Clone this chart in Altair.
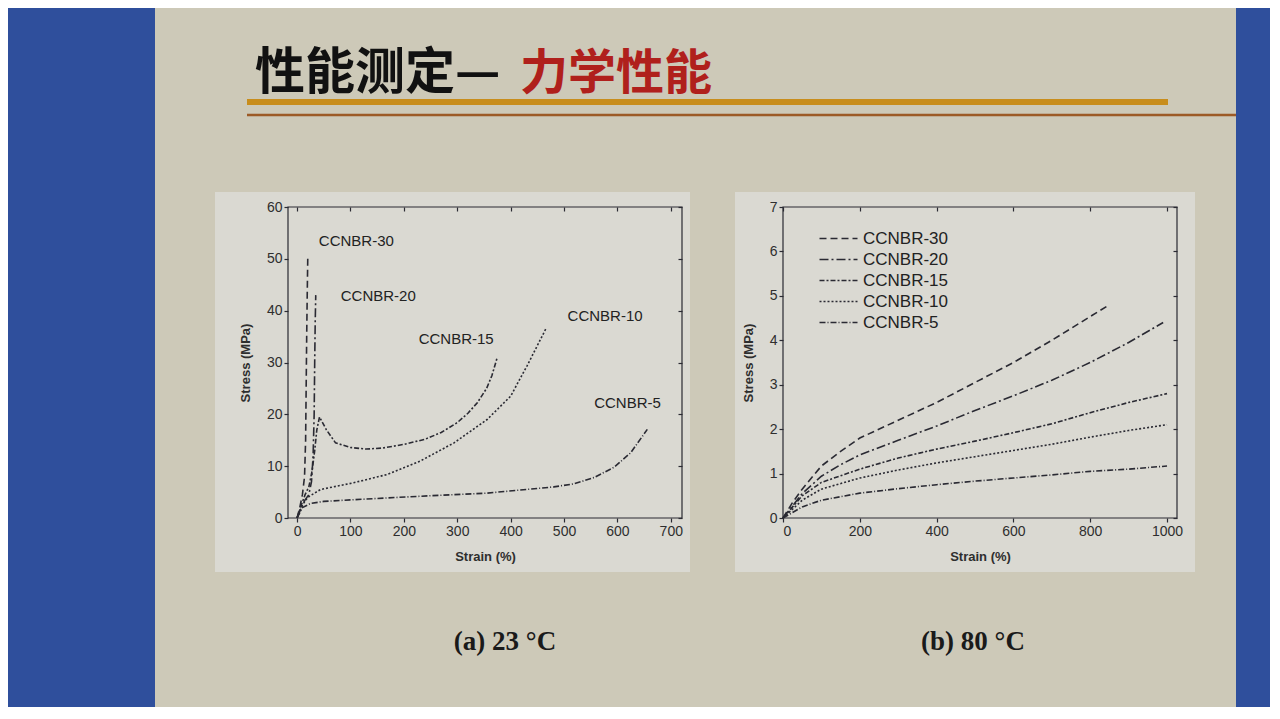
import altair as alt
import pandas as pd

# ---------------- data ----------------
series = ["CCNBR-30", "CCNBR-20", "CCNBR-15", "CCNBR-10", "CCNBR-5"]

# (a) 23 C
a30_strain = [0, 5, 10, 14, 16, 17, 18, 19, 20]
a30_stress = [0, 2, 4.5, 8, 15, 25, 35, 43, 50]
a20_strain = [0, 8, 15, 22, 27, 30, 32, 33, 34, 35]
a20_stress = [0, 2, 3.5, 4.5, 7, 12, 20, 30, 38, 43]
a15_strain = [0, 8, 15, 22, 28, 33, 37, 42, 55, 72, 100, 130, 160, 200, 240, 270, 300, 320, 338, 355, 365, 375]
a15_stress = [0, 2.5, 4.5, 6, 9, 13, 17, 19.5, 17, 14.5, 13.6, 13.3, 13.5, 14.2, 15.2, 16.5, 18.4, 20.2, 22.3, 25, 27.5, 31]
a10_strain = [0, 10, 20, 44, 106, 169, 231, 294, 356, 400, 431, 466]
a10_stress = [0, 2.5, 4, 5.5, 6.8, 8.4, 11, 14.5, 19, 23.5, 29.4, 36.5]
a5_strain = [0, 10, 25, 50, 100, 231, 356, 481, 519, 556, 594, 625, 656]
a5_stress = [0, 2, 2.8, 3.2, 3.5, 4.2, 4.8, 6.0, 6.6, 7.8, 9.8, 12.6, 17.1]

label_strain = [111, 152, 298, 577, 619]
label_stress = [53.4, 42.8, 34.5, 39, 22.2]

# (b) 80 C
b30_strain = [0, 25, 50, 100, 150, 200, 300, 400, 500, 600, 700, 850]
b30_stress = [0, 0.35, 0.65, 1.17, 1.5, 1.8, 2.2, 2.6, 3.05, 3.5, 4.0, 4.8]
b20_strain = [0, 50, 100, 150, 200, 300, 400, 500, 600, 700, 800, 900, 990]
b20_stress = [0, 0.55, 0.94, 1.2, 1.42, 1.75, 2.07, 2.42, 2.75, 3.1, 3.5, 3.95, 4.4]
b15_strain = [0, 50, 100, 200, 300, 400, 500, 600, 700, 800, 900, 1000]
b15_stress = [0, 0.5, 0.8, 1.1, 1.35, 1.55, 1.73, 1.92, 2.12, 2.37, 2.6, 2.8]
b10_strain = [0, 50, 100, 200, 300, 400, 500, 600, 700, 800, 900, 1000]
b10_stress = [0, 0.4, 0.65, 0.9, 1.08, 1.24, 1.38, 1.52, 1.66, 1.82, 1.97, 2.1]
b5_strain = [0, 50, 100, 200, 300, 400, 500, 600, 700, 800, 900, 1000]
b5_stress = [0, 0.25, 0.4, 0.56, 0.66, 0.75, 0.83, 0.9, 0.97, 1.05, 1.1, 1.17]

a_xticks = list(range(0, 701, 100))
a_yticks = list(range(0, 61, 10))
b_xticks = list(range(0, 1001, 200))
b_yticks = list(range(0, 8))

title_black = "性能测定—"
title_red = "力学性能"
caption_a = "(a) 23 °C"
caption_b = "(b) 80 °C"


def frame(pairs):
    rows = []
    for name, xs, ys in pairs:
        for i, (x, y) in enumerate(zip(xs, ys)):
            rows.append({"series": name, "strain": x, "stress": y, "order": i})
    return pd.DataFrame(rows)


df_a = frame([
    ("CCNBR-30", a30_strain, a30_stress),
    ("CCNBR-20", a20_strain, a20_stress),
    ("CCNBR-15", a15_strain, a15_stress),
    ("CCNBR-10", a10_strain, a10_stress),
    ("CCNBR-5", a5_strain, a5_stress),
])
df_b = frame([
    ("CCNBR-30", b30_strain, b30_stress),
    ("CCNBR-20", b20_strain, b20_stress),
    ("CCNBR-15", b15_strain, b15_stress),
    ("CCNBR-10", b10_strain, b10_stress),
    ("CCNBR-5", b5_strain, b5_stress),
])
df_lab = pd.DataFrame({"series": series, "strain": label_strain, "stress": label_stress})

# ---------------- styling ----------------
INK = "#2a2a33"
BLUE = "#2f4f9c"
SLIDE = "#cdc9b8"
FIG = "#dad9d2"
dash_range = [[7, 4], [9, 3, 2, 3], [5, 2, 2, 2], [2, 2], [6, 2, 1, 2]]
W, H = 394, 311
one = pd.DataFrame({"k": [0]})


def rect(x, x2, y, y2, fill, stroke=None):
    kw = dict(fill=fill)
    if stroke:
        kw = dict(fill=fill, stroke=stroke, strokeWidth=1.2)
    return alt.Chart(one).mark_rect(**kw).encode(
        x=alt.value(x), x2=alt.value(x2), y=alt.value(y), y2=alt.value(y2))


def hline(x, x2, y, color, width):
    return alt.Chart(one).mark_rule(color=color, strokeWidth=width).encode(
        x=alt.value(x), x2=alt.value(x2), y=alt.value(y))


def text(x, y, s, size, color, font, align="left", weight="bold"):
    return alt.Chart(one).mark_text(
        text=s, align=align, baseline="alphabetic", fontSize=size, color=color,
        font=font, fontWeight=weight).encode(x=alt.value(x), y=alt.value(y))


cjk = "Noto Sans CJK SC"
serif = "Liberation Serif"

decor = [
    rect(-280, 982, -199, 500, BLUE),
    rect(-133, 948, -199, 500, SLIDE),
    rect(-73, 402, -15, 365, FIG),
    rect(447, 907, -15, 365, FIG),
    text(-33, -118, title_black, 50, "#111111", cjk),
    text(232, -118, title_red, 48, "#b0201c", cjk),
    hline(-41, 880, -105, "#c88d1c", 6),
    hline(-41, 948, -92, "#9c5a26", 2.5),
    text(217, 443, caption_a, 27, "#1a1a1a", serif, align="center"),
    text(685, 443, caption_b, 27, "#1a1a1a", serif, align="center"),
    rect(0, W, 0, H, FIG, stroke=INK),
]

dash_scale = alt.Scale(domain=series, range=dash_range)

ax_kw = dict(labelFont="Liberation Sans", labelFontSize=14, labelColor="#2e2e2e",
             titleFont="Liberation Sans", titleFontSize=13, titleColor="#2e2e2e",
             titleFontWeight="bold", grid=False, domain=False, tickColor=INK,
             tickSize=4, tickWidth=1.2, labelPadding=2, zindex=1, format="d")
mirror_kw = dict(labels=False, title=None, grid=False, domain=False, tickColor=INK,
                 tickSize=4, tickWidth=1.2, offset=-4, zindex=1)


def panel(df, xdom, ydom, xticks, yticks, legend):
    xs = alt.Scale(domain=xdom, nice=False)
    ys = alt.Scale(domain=ydom, nice=False)
    lines = alt.Chart(df).mark_line(color=INK, strokeWidth=1.6).encode(
        x=alt.X("strain:Q", scale=xs,
                axis=alt.Axis(values=xticks, title="Strain (%)", titlePadding=12, **ax_kw)),
        y=alt.Y("stress:Q", scale=ys,
                axis=alt.Axis(values=yticks, title="Stress (MPa)", titlePadding=14, **ax_kw)),
        strokeDash=alt.StrokeDash("series:N", scale=dash_scale, legend=legend),
        order="order:Q",
    )
    mirror = alt.Chart(df).mark_point(opacity=0).encode(
        x=alt.X("strain:Q", scale=xs, axis=alt.Axis(orient="top", values=xticks, **mirror_kw)),
        y=alt.Y("stress:Q", scale=ys, axis=alt.Axis(orient="right", values=yticks, **mirror_kw)),
    )
    return lines, mirror


lines_a, mirror_a = panel(df_a, [-17, 721], [0, 60], a_xticks, a_yticks, None)
labels_a = alt.Chart(df_lab).mark_text(fontSize=15, font="Liberation Sans", color="#222222").encode(
    x=alt.X("strain:Q", axis=None), y=alt.Y("stress:Q", axis=None), text="series:N")

left = alt.layer(*decor, lines_a, mirror_a, labels_a).resolve_axis(
    x="independent", y="independent").properties(width=W, height=H)

legend_b = alt.Legend(orient="none", legendX=45, legendY=21, title=None,
                      labelFont="Liberation Sans", labelFontSize=17, labelColor="#222222",
                      symbolType="M-2,0H2", symbolSize=361, symbolStrokeWidth=1.6,
                      symbolStrokeColor=INK, symbolFillColor="transparent",
                      rowPadding=2, labelOffset=14)
frame_b = rect(0, W, 0, H, FIG, stroke=INK)
lines_b, mirror_b = panel(df_b, [0, 1026], [0, 7], b_xticks, b_yticks, legend_b)
right = alt.layer(frame_b, lines_b, mirror_b).resolve_axis(
    x="independent", y="independent").properties(width=W, height=H)

chart = alt.hconcat(left, right, spacing=101, bounds="flush").resolve_scale(
    strokeDash="independent").properties(padding=0).configure_view(stroke=None, fill=None)

chart.save("out.html", embed_options={"renderer": "svg", "actions": False})
